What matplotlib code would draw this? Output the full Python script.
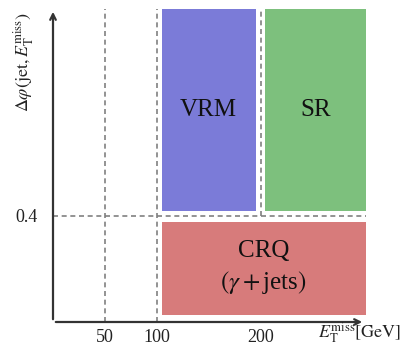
import matplotlib.pyplot as plt
from matplotlib.patches import Rectangle

plt.rcParams['font.family'] = ['Liberation Serif', 'DejaVu Serif']
plt.rcParams['mathtext.fontset'] = 'stix'

# region boxes in (MET, dphi) space
regions = ["VRM", "SR", "CRQ"]
box_x0 = [104.5, 204, 104.5]
box_x1 = [195, 301, 301]
box_y0 = [0.42, 0.42, 0.026]
box_y1 = [1.18, 1.18, 0.378]
box_colors = ["#7b7bd8", "#7dc07d", "#d77b7b"]
box_labels = ["VRM", "SR", "CRQ\n$(\\gamma+$jets$)$"]

# cut lines
met_cuts = [50, 100]
met_cut_sr = 200
dphi_cut = 0.4

xticks = [50, 100, 200]
yticks = [0.4]

fig = plt.figure(figsize=(4.04, 3.47), dpi=100)
ax = fig.add_axes([53 / 404, 25 / 347, 312 / 404, 313 / 347])
ax.set_xlim(0, 300)
ax.set_ylim(0, 1.18)

for i in range(len(regions)):
    ax.add_patch(Rectangle((box_x0[i], box_y0[i]), box_x1[i] - box_x0[i],
                           box_y1[i] - box_y0[i], facecolor=box_colors[i],
                           edgecolor='none', clip_on=False, zorder=1))
    ax.text((box_x0[i] + box_x1[i]) / 2, (box_y0[i] + box_y1[i]) / 2,
            box_labels[i], ha='center', va='center', fontsize=18,
            color='#111111', linespacing=1.35, zorder=3)

dash_kw = dict(color='#808080', lw=1.2, dashes=(3, 2.2), clip_on=False, zorder=2)
for c in met_cuts:
    ax.plot([c, c], [0, 1.18], **dash_kw)
ax.plot([met_cut_sr, met_cut_sr], [dphi_cut, 1.18], **dash_kw)
ax.plot([0, 301], [dphi_cut, dphi_cut], **dash_kw)

# axes drawn as arrows
for s in ax.spines.values():
    s.set_visible(False)
arrow_kw = dict(arrowstyle='->', color='#333333', lw=1.6, mutation_scale=10)
ax.annotate('', xy=(300, 0), xytext=(0, 0), arrowprops=arrow_kw,
            annotation_clip=False, zorder=4)
ax.annotate('', xy=(0, 1.18), xytext=(0, 0), arrowprops=arrow_kw,
            annotation_clip=False, zorder=4)

ax.set_xticks(xticks)
ax.set_xticklabels([str(t) for t in xticks])
ax.set_yticks(yticks)
ax.set_yticklabels([str(t) for t in yticks])
ax.tick_params(axis='x', length=0, pad=5, labelsize=13, labelcolor='#222222')
ax.tick_params(axis='y', length=0, pad=11, labelsize=13, labelcolor='#222222')

fig.text(24 / 404, 1 - 62 / 347, r'$\Delta\varphi(\mathrm{jet},E_{\mathrm{T}}^{\mathrm{miss}})$',
         rotation=90, ha='center', va='center', fontsize=13, color='#222222')
fig.text(401 / 404, 1 - 338 / 347, r'$E_{\mathrm{T}}^{\mathrm{miss}}[\mathrm{GeV}]$',
         ha='right', va='baseline', fontsize=13, color='#222222')

fig.savefig('out.png', dpi=100, facecolor='white')
